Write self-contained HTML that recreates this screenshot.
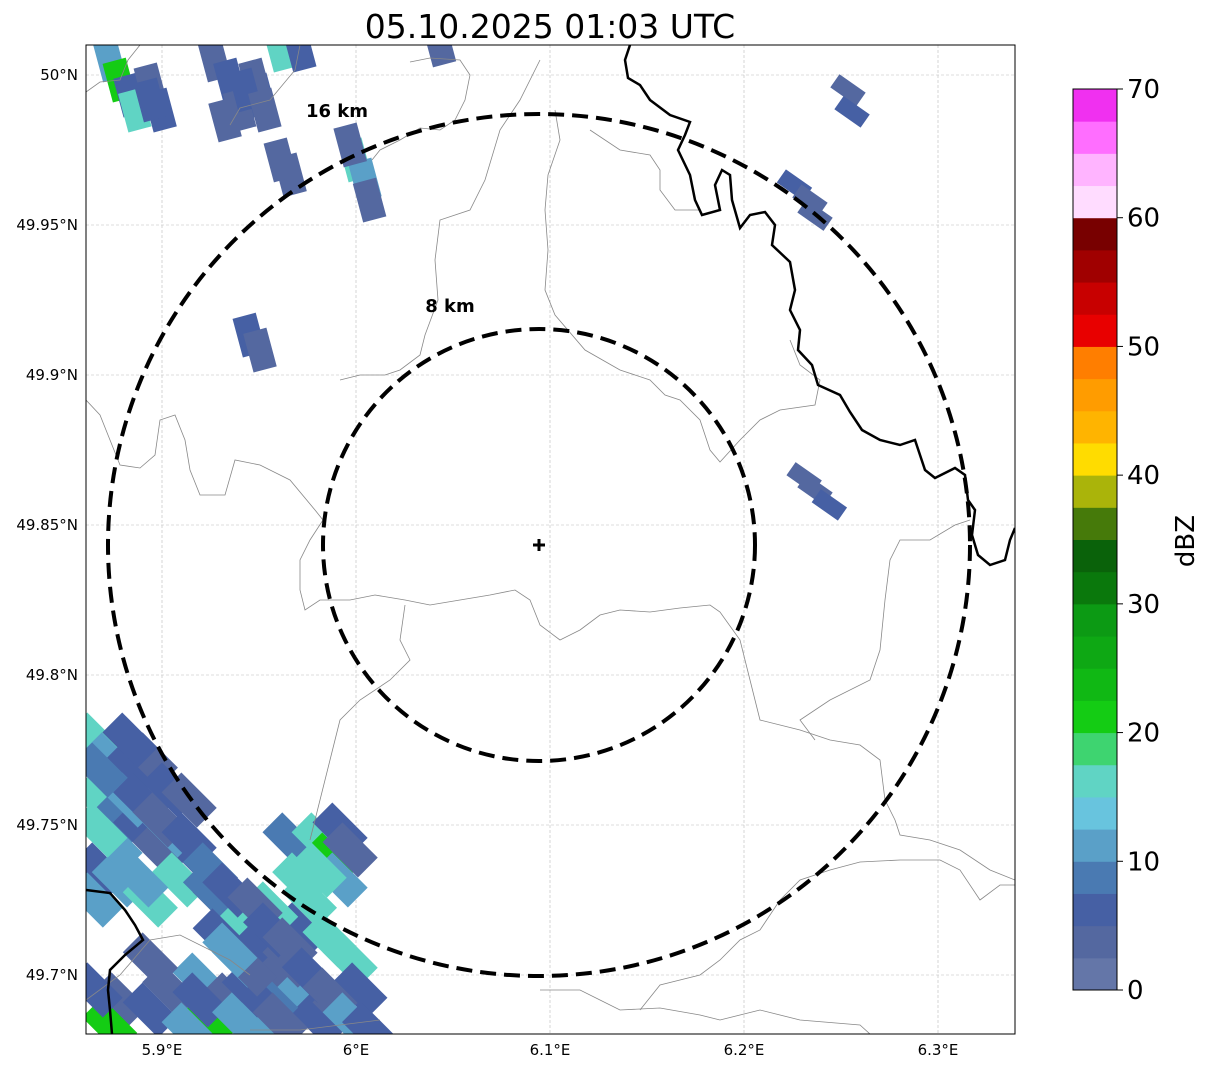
<!DOCTYPE html>
<html><head><meta charset="utf-8"><style>
body{margin:0;background:#fff;width:1207px;height:1069px;overflow:hidden;font-family:"Liberation Sans","DejaVu Sans",sans-serif;}
svg text{font-family:"DejaVu Sans","Liberation Sans",sans-serif;}
</style></head><body>
<svg id="chart" width="1207" height="1069" viewBox="0 0 1207 1069" xmlns="http://www.w3.org/2000/svg">
<text x="550" y="38" font-size="33" text-anchor="middle">05.10.2025 01:03 UTC</text>
<defs><clipPath id="mapclip"><rect x="86" y="45" width="929" height="989"/></clipPath></defs>
<g id="grid"></g>
<g clip-path="url(#mapclip)">
<g id="echoes"></g>
<g fill="none" stroke="#888" stroke-width="0.8">
<path d="M86,92 L100,82 L120,80 L128,60 L140,45"/>
<path d="M300,45 L295,70 L270,100 L240,108 L230,125"/>
<path d="M410,62 L430,58 L460,60 L470,75 L465,100 L455,120 L440,130 L420,128 L400,140 L380,150 L372,160"/>
<path d="M86,400 L100,415 L110,440 L120,465 L140,468 L155,455 L160,420 L175,415 L185,440 L190,470 L200,495 L225,495 L235,460 L260,465 L290,480 L315,510 L323,520 L310,540 L300,560 L300,590 L305,610 L320,600 L350,600 L375,595 L405,600 L430,605 L460,600 L490,595 L515,590 L530,600 L540,625 L560,640 L580,630 L600,615 L620,610 L650,612 L680,608 L710,605 L720,612 L740,640 L750,680 L760,720 L800,730 L830,740 L860,745 L880,760 L885,800 L895,820 L900,835 L930,840 L960,850 L990,870 L1015,880"/>
<path d="M540,60 L520,100 L500,130 L485,180 L470,210 L440,220 L435,260 L438,300 L425,335 L420,355 L400,370 L385,375 L360,375 L340,380"/>
<path d="M555,110 L560,140 L548,175 L545,210 L548,250 L545,290 L555,315 L585,350 L620,370 L650,380 L665,395 L680,400 L700,420 L710,450 L720,462 L740,440 L760,420 L780,410 L815,405 L820,380 L800,365 L790,340"/>
<path d="M590,130 L620,150 L650,155 L660,170 L660,190 L675,210 L700,210"/>
<path d="M405,605 L400,640 L410,660 L390,680 L360,700 L340,720 L330,760 L320,800 L310,840"/>
<path d="M86,1000 L120,975 L150,940 L180,935 L210,950 L230,960 L250,975"/>
<path d="M250,1030 L300,1030 L380,1020"/>
<path d="M540,990 L580,990 L600,1000 L620,1010 L660,1008 L700,1015 L720,1020 L760,1010 L800,1020 L860,1025 L870,1034"/>
<path d="M640,1010 L660,985 L700,975 L720,960 L740,940 L760,930 L780,900 L800,880 L830,870 L860,862 L900,860 L940,860 L960,870 L980,900 L1000,885 L1015,885"/>
<path d="M815,740 L800,720 L830,700 L870,680 L880,650 L885,600 L890,560 L900,540 L930,540 L955,525 L970,520"/>
</g>
<g fill="none" stroke="#000" stroke-width="2.5">
<path d="M630,45 L625,60 L628,78 L640,85 L650,100 L670,115 L690,122 L685,135 L678,150 L690,175 L695,200 L702,215 L720,210 L715,185 L722,170 L730,175 L732,200 L740,228 L750,215 L765,212 L775,225 L772,245 L790,262 L795,290 L790,310 L800,330 L798,350 L812,365 L818,385 L840,395 L850,412 L862,430 L880,440 L900,445 L915,440 L920,455 L925,470 L935,478 L955,468 L965,475 L968,500 L975,510 L972,535 L978,555 L990,565 L1005,560 L1010,540 L1015,528"/>
<path d="M86,890 L110,893 L125,910 L135,925 L143,940 L125,955 L110,970 L108,990 L110,1010 L112,1034"/>
</g>
</g>
<rect x="86" y="45" width="929" height="989" fill="none" stroke="#000" stroke-width="1"/>
<g fill="none" stroke="#000" stroke-width="4" stroke-dasharray="16,8">
<circle cx="539" cy="545" r="431"/>
<circle cx="539" cy="545" r="216"/>
</g>
<text x="337" y="117" font-size="18" font-weight="bold" text-anchor="middle">16 km</text>
<text x="450" y="312" font-size="18" font-weight="bold" text-anchor="middle">8 km</text>
<g stroke="#000" stroke-width="3"><line x1="533" y1="545" x2="545" y2="545"/><line x1="539" y1="539" x2="539" y2="551"/></g>
<g id="ticks"></g>
<g id="cbar"></g>
<text transform="translate(1194,541) rotate(-90)" font-size="26" text-anchor="middle">dBZ</text>
</svg>
<script>
const lonTicks=[5.9,6.0,6.1,6.2,6.3];
const lonLabels=["5.9°E","6°E","6.1°E","6.2°E","6.3°E"];
const latTicks=[50.0,49.95,49.9,49.85,49.8,49.75,49.7];
const latLabels=["50°N","49.95°N","49.9°N","49.85°N","49.8°N","49.75°N","49.7°N"];
const cbarTicks=[0,10,20,30,40,50,60,70];
const cbarColors=["#6476a8","#5468a0","#4660a4","#4a7ab2","#5aa0c8","#68c4de","#60d4c4","#3ed470","#14cc14","#10b814","#0ea814","#0c9a14","#0a780c","#0a620a","#467a0a","#aab40a","#ffdc00","#ffb400","#ff9c00","#ff7e00","#e80000","#c80000","#a00000","#780000","#ffdcff","#ffb4ff","#ff6eff","#f030f0"];
const cellLon=[5.8655,5.873,5.8835,5.894,5.904,5.914,5.868,5.878,5.889,5.899,5.909,5.9196,5.930,5.940,5.9505,5.961,5.971,5.981,5.868,5.878,5.894,5.9196,5.935,5.9505,5.966,5.981,5.9918,5.9866,5.9918,5.976,5.971,5.9866,5.997,6.002,5.9918,5.966,5.956,5.945,5.878,5.894,5.904,5.873,5.925,5.914,5.8655,5.8835,5.904,5.925,5.940,5.956,5.930,5.945,
5.868,5.889,5.8758,5.899,5.914,5.925,5.935,5.948,5.956,5.966,5.976,5.9866,5.997,6.007,5.889,5.8655,5.935,5.9196,5.894,5.961,5.940,5.971,5.997,5.981,5.868,5.8835,
5.873,5.878,5.8835,5.894,5.899,5.886,5.927,5.935,5.9505,5.940,5.948,5.961,5.971,5.966,5.961,5.9995,6.0046,6.007,5.997,5.945,5.9505,6.043,5.9428,5.953,5.9325,5.894,
6.2536,6.2557,6.226,6.234,6.2366,6.2366,6.244,6.231];
const cellLat=[49.7783,49.7717,49.7683,49.7717,49.7617,49.7583,49.7583,49.7517,49.7483,49.7417,49.7317,49.7383,49.725,49.7183,49.7083,49.6983,49.6917,49.685,49.735,49.7317,49.725,49.6983,49.6917,49.685,49.745,49.745,49.7483,49.7383,49.7317,49.725,49.715,49.7117,49.705,49.695,49.6883,49.705,49.6917,49.695,49.6917,49.6883,49.695,49.6833,49.685,49.6817,49.695,49.7583,49.7483,49.7283,49.705,49.722,49.713,49.702,
49.7683,49.7583,49.7433,49.7517,49.745,49.735,49.7283,49.7233,49.715,49.71,49.70,49.6933,49.685,49.6817,49.7317,49.725,49.7083,49.6917,49.705,49.685,49.685,49.7317,49.7417,49.735,49.7483,49.7783,
50.005,49.9983,49.9933,49.9967,49.9883,49.9883,50.005,49.9983,49.9933,49.9883,49.9983,50.0083,50.0083,49.9667,49.9717,49.9717,49.965,49.9583,49.9767,49.9133,49.9083,50.010,49.995,49.9883,49.985,49.9917,
49.995,49.9877,49.9633,49.9583,49.9533,49.8617,49.8567,49.8657];
const cellDbz=[15,12,5,3,5,3,15,8,5,3,17,5,3,15,5,3,10,5,5,10,17,10,3,12,8,15,5,20,12,17,5,15,17,5,3,3,8,5,3,5,3,22,22,10,5,12,10,8,12,15,5,3,
8,5,12,3,5,8,5,3,5,3,5,3,12,5,12,10,12,5,3,3,12,15,3,15,15,5,
12,22,5,3,5,15,3,5,5,3,3,17,5,3,3,15,12,3,3,5,3,3,5,3,3,5,
3,5,5,3,3,3,5,3];
const LON0=5.9,LAT0=50.0;
function xScale(lon){return 162+(lon-LON0)*1940;}
function yScale(lat){return 75+(LAT0-lat)*3000;}
function cbY(v){return 990-v*(901/70);}
function colorFor(v){return cbarColors[Math.min(cbarColors.length-1,Math.max(0,Math.floor(v/2.5)))];}
const NS="http://www.w3.org/2000/svg";
function mk(tag,attrs,parent){const e=document.createElementNS(NS,tag);for(const k in attrs)e.setAttribute(k,attrs[k]);parent.appendChild(e);return e;}
const grid=document.getElementById('grid'),ticks=document.getElementById('ticks');
lonTicks.forEach((v,i)=>{const x=xScale(v);
 const g=mk('line',{x1:x,x2:x,y1:45,y2:1034,stroke:'#bbb','stroke-width':0.6,'stroke-dasharray':'3,2'},grid);
 
 
 const t=mk('text',{x:x,y:1055,'font-size':15,'text-anchor':'middle'},ticks);t.textContent=lonLabels[i];
 
 
});
latTicks.forEach((v,i)=>{const y=yScale(v);
 const g=mk('line',{x1:86,x2:1015,y1:y,y2:y,stroke:'#bbb','stroke-width':0.6,'stroke-dasharray':'3,2'},grid);
 
 
 const t=mk('text',{x:78,y:y+5,'font-size':15,'text-anchor':'end'},ticks);t.textContent=latLabels[i];
 
 
});
const echoes=document.getElementById('echoes');
for(let i=0;i<cellLon.length;i++){
 const x=xScale(cellLon[i]),y=yScale(cellLat[i]);
 let w=50,h=28,rot=45;
 if(cellLat[i]>49.88&&cellLon[i]<6.1){w=24;h=40;rot=-15;}
 else if(cellLon[i]>6.2){w=32;h=16;rot=35;}
 const r=mk('rect',{x:x-w/2,y:y-h/2,width:w,height:h,fill:colorFor(cellDbz[i]),transform:`rotate(${rot} ${x} ${y})`},echoes);
 
 
}
const cbar=document.getElementById('cbar');
cbarColors.forEach((c,i)=>{const y1=cbY(i*2.5),y0=cbY((i+1)*2.5);
 const r=mk('rect',{x:1073,y:y0,width:44,height:y1-y0+0.5,fill:c},cbar);
 
 
});
const fr=mk('rect',{x:1073,y:89,width:44,height:901,fill:'none',stroke:'#000','stroke-width':1},cbar);


cbarTicks.forEach(v=>{const y=cbY(v);
 mk('line',{x1:1117,x2:1123,y1:y,y2:y,stroke:'#000'},cbar);
 const t=mk('text',{x:1127,y:y+9,'font-size':26},cbar);t.textContent=v;
 
 
});
</script>
</body></html>
